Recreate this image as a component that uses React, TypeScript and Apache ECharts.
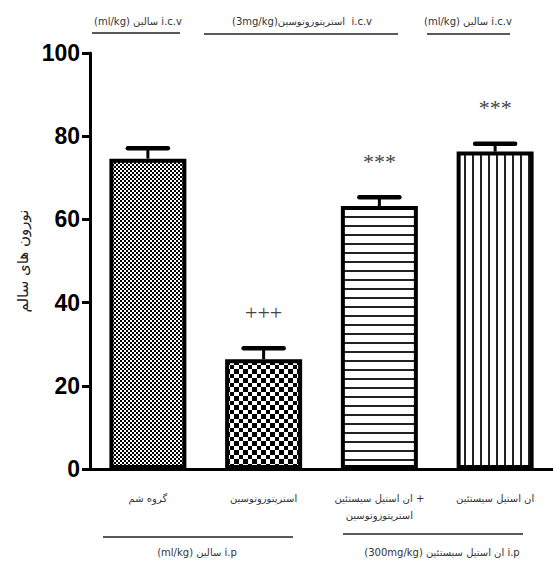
import React, { useEffect, useRef } from "react";
import * as echarts from "echarts";

// Groups along the x axis
const categories = [
  "گروه شم",
  "استرپتوزوتوسین",
  "ان استیل سیستئین +\nاسترپتوزوتوسین",
  "ان استیل سیستئین",
];
// Mean count of healthy neurons per group, with SEM
const means = [74.6, 26.4, 63.2, 76.3];
const sems = [2.5, 2.6, 2.1, 1.9];
// Significance marks above each error bar
const marks = ["", "+++", "***", "***"];
// Y axis scale
const yMin = 0;
const yMax = 100;
const yStep = 20;
const yTitle = "نورون های سالم";
// Treatment brackets above and below the plot
const topGroups = ["(ml/kg) سالین i.c.v", "(3mg/kg)استرپتوزوتوسین  i.c.v", "(ml/kg) سالین i.c.v"];
const bottomGroups = ["(ml/kg) سالین i.p", "(300mg/kg) ان استیل سیستئین i.p"];

const ARABIC_FONT = "DejaVu Sans";

type Painter = (ctx: CanvasRenderingContext2D) => void;

function makePattern(w: number, h: number, ink: string, paint: Painter) {
  const c = document.createElement("canvas");
  c.width = w;
  c.height = h;
  const ctx = c.getContext("2d")!;
  ctx.fillStyle = "#ffffff";
  ctx.fillRect(0, 0, w, h);
  ctx.fillStyle = ink;
  paint(ctx);
  return { image: c, repeat: "repeat", imageWidth: w, imageHeight: h } as any;
}

export default function App() {
  const ref = useRef<HTMLDivElement>(null);

  useEffect(() => {
    if (!ref.current) return;
    const chart = echarts.init(ref.current, null, { renderer: "svg" });

    const fills = [
      // fine dot screen
      makePattern(4, 4, "#000", (c) => {
        c.fillRect(0, 0, 2, 2);
        c.fillRect(2, 2, 2, 2);
      }),
      // coarse checkerboard
      makePattern(9, 9, "#000", (c) => {
        c.fillRect(0, 0, 5, 5);
        c.fillRect(5, 5, 4, 4);
      }),
      // horizontal hatching
      makePattern(4, 9, "#222", (c) => c.fillRect(0, 0, 4, 2)),
      // vertical hatching
      makePattern(8, 4, "#222", (c) => c.fillRect(0, 0, 2, 4)),
    ];

    const lineStyle = { stroke: "#222", lineWidth: 1.5 };
    const labelStyle = (text: string, x: number, y: number) => ({
      type: "text",
      x,
      y,
      silent: true,
      style: {
        text,
        fill: "#333",
        font: `10px "${ARABIC_FONT}"`,
        textAlign: "center",
        textVerticalAlign: "middle",
      },
    });

    chart.setOption({
      animation: false,
      backgroundColor: "#ffffff",
      grid: { left: 90, right: 0, top: 53, bottom: 92, containLabel: false },
      xAxis: {
        type: "category",
        data: categories,
        axisLine: { lineStyle: { color: "#000", width: 3 } },
        axisTick: { alignWithLabel: true, length: 10, lineStyle: { color: "#000", width: 3 } },
        axisLabel: {
          interval: 0,
          margin: 21,
          color: "#333",
          fontFamily: ARABIC_FONT,
          fontSize: 10,
          lineHeight: 17,
        },
      },
      yAxis: {
        type: "value",
        min: yMin,
        max: yMax,
        interval: yStep,
        name: yTitle,
        nameLocation: "middle",
        nameRotate: 90,
        nameGap: 47,
        nameTextStyle: { color: "#222", fontFamily: ARABIC_FONT, fontSize: 15 },
        axisLine: { show: true, lineStyle: { color: "#000", width: 3 } },
        axisTick: { show: true, length: 8, lineStyle: { color: "#000", width: 3 } },
        axisLabel: {
          margin: 10,
          color: "#000",
          fontFamily: "Liberation Sans",
          fontWeight: "bold",
          fontSize: 23,
        },
        splitLine: { show: false },
      },
      series: [
        {
          type: "bar",
          barWidth: 77,
          data: means.map((v, i) => ({
            value: v,
            itemStyle: { color: fills[i], borderColor: "#000", borderWidth: 4 },
          })),
          z: 2,
        },
        {
          type: "custom",
          z: 5,
          encode: { x: 0, y: 1 },
          data: means.map((v, i) => [i, v, sems[i]]),
          renderItem: (params: any, api: any) => {
            const i = api.value(0);
            const v = api.value(1);
            const e = api.value(2);
            const base = api.coord([i, v]);
            const tip = api.coord([i, v + e]);
            const half = 20;
            return {
              type: "group",
              children: [
                {
                  type: "line",
                  shape: { x1: base[0], y1: base[1], x2: tip[0], y2: tip[1] },
                  style: { stroke: "#000", lineWidth: 3 },
                },
                {
                  type: "line",
                  shape: { x1: tip[0] - half, y1: tip[1], x2: tip[0] + half, y2: tip[1] },
                  style: { stroke: "#000", lineWidth: 4.5, lineCap: "round" },
                },
                {
                  type: "text",
                  x: tip[0],
                  y: tip[1] - 36,
                  style: {
                    text: marks[i],
                    fill: "#444",
                    font: '22px "Liberation Serif"',
                    textAlign: "center",
                    textVerticalAlign: "middle",
                  },
                },
              ],
            };
          },
        },
      ],
      graphic: [
        { type: "line", shape: { x1: 92, y1: 33, x2: 180, y2: 33 }, style: lineStyle, silent: true },
        { type: "line", shape: { x1: 204, y1: 34, x2: 398, y2: 34 }, style: lineStyle, silent: true },
        { type: "line", shape: { x1: 427, y1: 34, x2: 510, y2: 34 }, style: lineStyle, silent: true },
        labelStyle(topGroups[0], 138, 21),
        labelStyle(topGroups[1], 302, 21),
        labelStyle(topGroups[2], 468, 21),
        { type: "line", shape: { x1: 103, y1: 537, x2: 293, y2: 537 }, style: lineStyle, silent: true },
        { type: "line", shape: { x1: 343, y1: 534, x2: 523, y2: 534 }, style: lineStyle, silent: true },
        labelStyle(bottomGroups[0], 197, 552),
        labelStyle(bottomGroups[1], 442, 552),
      ],
    });

    return () => chart.dispose();
  }, []);

  return (
    <div
      ref={ref}
      style={{ position: "absolute", left: 0, top: 0, width: 553, height: 561, background: "#fff" }}
    />
  );
}
